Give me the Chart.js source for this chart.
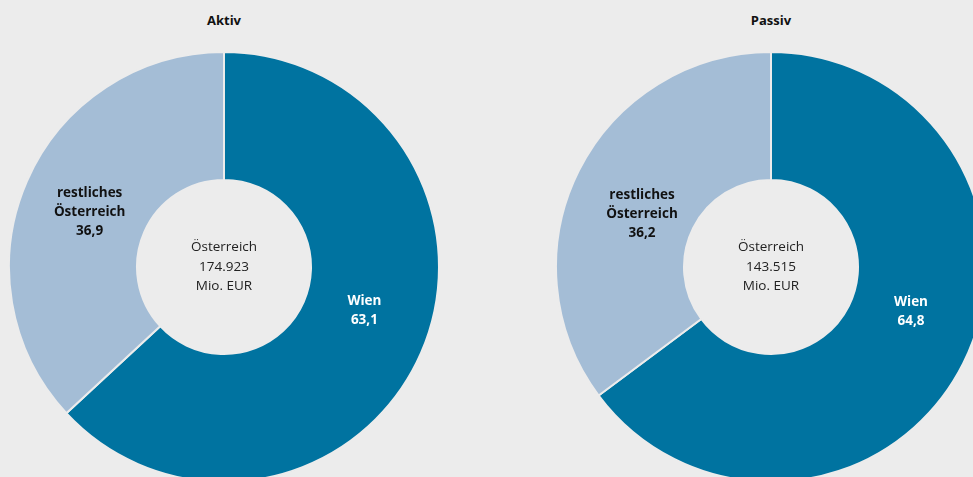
<!DOCTYPE html>
<html lang="de">
<head>
  <meta charset="UTF-8" />
  <title>Aktiv / Passiv</title>
  <script src="https://cdn.jsdelivr.net/npm/chart.js"></script>
  <style>
    html, body {
      margin: 0;
      padding: 0;
      width: 973px;
      height: 477px;
      overflow: hidden;
      background-color: #ececec;
      font-family: 'Open Sans', sans-serif;
    }

    .title {
      position: absolute;
      top: 11px;
      width: 200px;
      text-align: center;
      font-size: 13px;
      font-weight: bold;
      color: #111;
    }

    .chart-box {
      position: absolute;
      top: 51px;
      width: 432px;
      height: 432px;
    }
  </style>
</head>
<body>

  <div class="title" style="left: 124px;">Aktiv</div>
  <div class="title" style="left: 671px;">Passiv</div>

  <div class="chart-box" style="left: 8px;"><canvas id="aktivChart"></canvas></div>
  <div class="chart-box" style="left: 555px;"><canvas id="passivChart"></canvas></div>

  <script>
    // Daten
    const categories = ['Wien', 'restliches Österreich'];
    const categoryLines = [['Wien'], ['restliches', 'Österreich']];
    const aktivValues = [63.1, 36.9];
    const aktivText = ['63,1', '36,9'];
    const passivValues = [64.8, 35.2];
    const passivText = ['64,8', '36,2'];
    const aktivCenter = ['Österreich', '174.923', 'Mio. EUR'];
    const passivCenter = ['Österreich', '143.515', 'Mio. EUR'];

    const sliceColors = ['#0073a0', '#a4bdd6'];
    const labelColors = ['#ffffff', '#111111'];

    // Beschriftung in den Segmenten und in der Mitte
    const labelPlugin = {
      id: 'ringLabels',
      afterDatasetsDraw(chart, args, opts) {
        const ctx = chart.ctx;
        const meta = chart.getDatasetMeta(0);
        ctx.save();
        ctx.textAlign = 'center';
        ctx.textBaseline = 'middle';

        meta.data.forEach((arc, i) => {
          const pos = arc.tooltipPosition();
          const lines = categoryLines[i].concat([opts.values[i]]);
          const lh = 19;
          const x = pos.x + opts.offsets[i].x;
          const y0 = pos.y + opts.offsets[i].y - (lines.length - 1) * lh / 2;
          ctx.font = 'bold 13.5px "Open Sans"';
          ctx.fillStyle = labelColors[i];
          lines.forEach((line, j) => ctx.fillText(line, x, y0 + j * lh));
        });

        const c = meta.data[0];
        ctx.font = '13.5px "Open Sans"';
        ctx.fillStyle = '#222';
        const lh = 19.5;
        opts.center.forEach((line, j) => {
          ctx.fillText(line, c.x, c.y + (j - 1) * lh);
        });
        ctx.restore();
      }
    };

    function makeDoughnut(id, values, text, center, offsets) {
      return new Chart(document.getElementById(id), {
        type: 'doughnut',
        data: {
          labels: categories,
          datasets: [{
            data: values,
            backgroundColor: sliceColors,
            borderColor: '#ececec',
            borderWidth: 2
          }]
        },
        options: {
          responsive: true,
          maintainAspectRatio: false,
          animation: false,
          cutout: 87,
          layout: { padding: 0 },
          plugins: {
            legend: { display: false },
            tooltip: { enabled: false },
            ringLabels: { values: text, center: center, offsets: offsets }
          }
        },
        plugins: [labelPlugin]
      });
    }

    makeDoughnut('aktivChart', aktivValues, aktivText, aktivCenter,
      [{ x: 2, y: -17 }, { x: 4, y: 6 }]);
    makeDoughnut('passivChart', passivValues, passivText, passivCenter,
      [{ x: 5, y: -23 }, { x: 6, y: 15 }]);
  </script>
</body>
</html>
